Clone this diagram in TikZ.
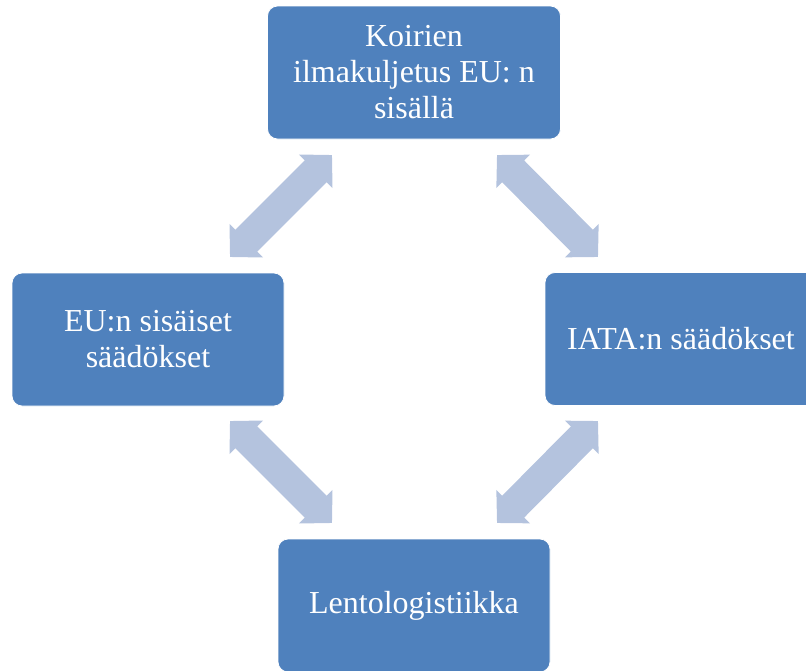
\documentclass[tikz,border=0pt]{standalone}
\usepackage{fontspec}
\setmainfont{Liberation Serif}
\usetikzlibrary{arrows.meta}
\definecolor{boxblue}{HTML}{4F81BD}
\definecolor{arrowblue}{HTML}{B4C3DE}

\begin{document}
\begin{tikzpicture}[
    x=1pt, y=-1pt,
    topic_box/.style={fill=boxblue, draw=white, line width=0.8pt, rounded corners=10pt,
        text=white, align=center, minimum width=272pt, minimum height=133pt,
        font=\fontsize{32}{36}\selectfont},
    link_arrow/.style={arrowblue, line width=31pt,
        {Triangle[width=46pt,length=23pt]}-{Triangle[width=46pt,length=23pt]}}
]
    \useasboundingbox (0,0) rectangle (806,670);
    \clip (0,0) rectangle (806,670);
    % Laatikot
    \node[topic_box, minimum width=293pt] (koirat) at (414,72.5) {Koirien\\ilmakuljetus EU: n\\sisällä};
    \node[topic_box] (eu) at (148,339.5) {EU:n sisäiset\\säädökset};
    \node[topic_box] (iata) at (681,339) {IATA:n säädökset};
    \node[topic_box] (lento) at (414,605.5) {Lentologistiikka};
    % Nuolten kärjet
    \coordinate (tl_a) at (332,155); \coordinate (tl_b) at (230,257);
    \coordinate (tr_a) at (497,155); \coordinate (tr_b) at (598,257);
    \coordinate (bl_a) at (230,421); \coordinate (bl_b) at (332,523);
    \coordinate (br_a) at (598,421); \coordinate (br_b) at (497,523);
    % Nuolet
    \draw[link_arrow] (tl_a) -- (tl_b);
    \draw[link_arrow] (tr_a) -- (tr_b);
    \draw[link_arrow] (bl_a) -- (bl_b);
    \draw[link_arrow] (br_a) -- (br_b);
\end{tikzpicture}
\end{document}
